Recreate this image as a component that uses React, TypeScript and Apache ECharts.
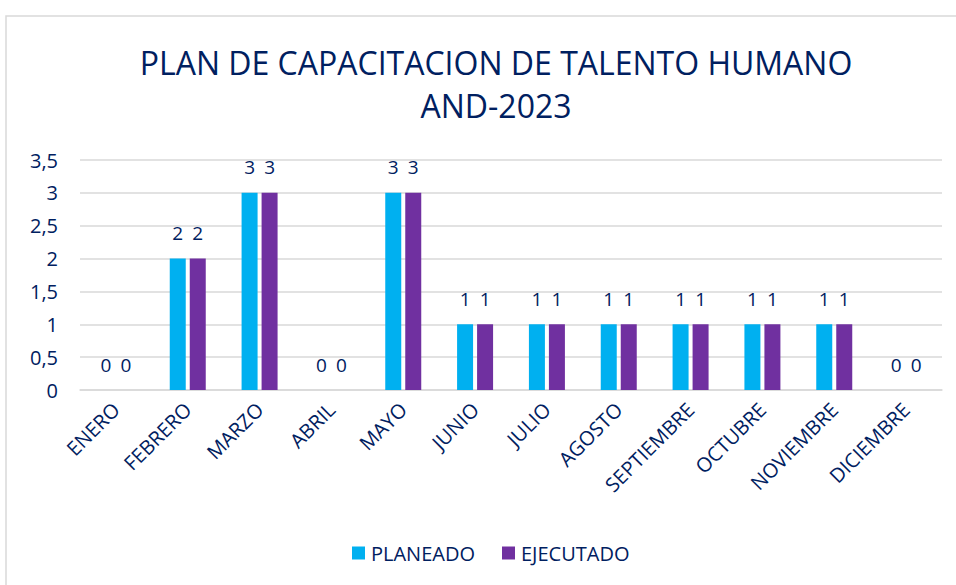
import React, { useEffect, useRef } from "react";
import * as echarts from "echarts";

const categories = ["ENERO", "FEBRERO", "MARZO", "ABRIL", "MAYO", "JUNIO", "JULIO", "AGOSTO", "SEPTIEMBRE", "OCTUBRE", "NOVIEMBRE", "DICIEMBRE"];
const planeado = [0, 2, 3, 0, 3, 1, 1, 1, 1, 1, 1, 0];
const ejecutado = [0, 2, 3, 0, 3, 1, 1, 1, 1, 1, 1, 0];
const titleLines = ["PLAN DE CAPACITACION DE TALENTO HUMANO", "AND-2023"];

const FONT = "'Open Sans', 'Noto Sans', sans-serif";
const NAVY = "#002060";

export default function App() {
  const ref = useRef<HTMLDivElement>(null);
  useEffect(() => {
    if (!ref.current) return;
    const chart = echarts.init(ref.current, undefined, { renderer: "svg" });
    chart.setOption({
      animation: false,
      backgroundColor: "#ffffff",
      textStyle: { fontFamily: FONT },
      graphic: [
        {
          type: "rect",
          shape: { x: 6, y: 16, width: 1000, height: 600 },
          style: { fill: "none", stroke: "#d9d9d9", lineWidth: 1.5 },
          silent: true,
        },
      ],
      title: {
        text: titleLines.join("\n"),
        left: 491,
        top: 36,
        textAlign: "center",
        textStyle: { fontFamily: FONT, fontSize: 32, fontWeight: "normal", color: NAVY, lineHeight: 43 },
      },
      legend: {
        data: ["PLANEADO", "EJECUTADO"],
        left: 347,
        top: 538,
        icon: "rect",
        itemWidth: 13,
        itemHeight: 13,
        itemGap: 27,
        textStyle: { fontFamily: FONT, fontSize: 20, color: NAVY, padding: [0, 0, 0, 1] },
      },
      grid: { left: 80, right: 14, top: 160, bottom: 195 },
      xAxis: {
        type: "category",
        data: categories,
        axisTick: { show: false },
        axisLine: { lineStyle: { color: "#d9d9d9", width: 1.5 } },
        axisLabel: { rotate: 45, margin: 16, fontSize: 20, color: NAVY, fontFamily: FONT, interval: 0 },
      },
      yAxis: {
        type: "value",
        min: 0,
        max: 3.5,
        interval: 0.5,
        axisLine: { show: false },
        axisTick: { show: false },
        axisLabel: {
          fontSize: 20,
          color: NAVY,
          fontFamily: FONT,
          margin: 22,
          formatter: (v: number) => String(v).replace(".", ","),
        },
        splitLine: { lineStyle: { color: "#d9d9d9", width: 1.5 } },
      },
      series: [
        {
          name: "PLANEADO",
          type: "bar",
          data: planeado,
          barWidth: 16,
          barGap: "25%",
          itemStyle: { color: "#00B0F0" },
          label: { show: true, position: "top", distance: 16, fontSize: 19, color: NAVY, fontFamily: FONT },
        },
        {
          name: "EJECUTADO",
          type: "bar",
          data: ejecutado,
          barWidth: 16,
          itemStyle: { color: "#7030A0" },
          label: { show: true, position: "top", distance: 16, fontSize: 19, color: NAVY, fontFamily: FONT },
        },
      ],
    });
    return () => chart.dispose();
  }, []);
  return <div ref={ref} style={{ position: "fixed", left: 0, top: 0, width: 956, height: 585 }} />;
}
